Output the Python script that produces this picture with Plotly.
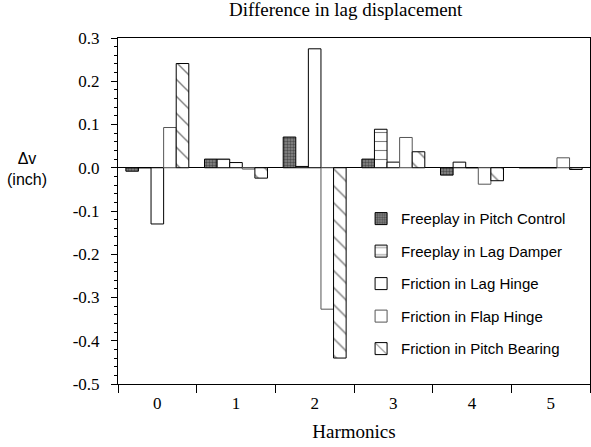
import plotly.graph_objects as go

harmonics = [0, 1, 2, 3, 4, 5]
tick_labels = ["0", "1", "2", "3", "4", "5"]
series_names = [
    "Freeplay in Pitch Control",
    "Freeplay in Lag Damper",
    "Friction in Lag Hinge",
    "Friction in Flap Hinge",
    "Friction in Pitch Bearing",
]
pitch_control = [-0.008, 0.020, 0.071, 0.020, -0.017, 0.0]
lag_damper = [0.0, 0.020, 0.003, 0.089, 0.013, 0.0]
lag_hinge = [-0.130, 0.012, 0.275, 0.013, 0.0, 0.0]
flap_hinge = [0.093, -0.003, -0.327, 0.070, -0.038, 0.023]
pitch_bearing = [0.241, -0.024, -0.440, 0.037, -0.030, -0.004]

values = [pitch_control, lag_damper, lag_hinge, flap_hinge, pitch_bearing]
styles = [
    dict(color="#6a6a6a", line=dict(color="black", width=1),
         pattern=dict(shape=".", fgcolor="#111111", bgcolor="#8a8a8a", size=3, solidity=0.5)),
    dict(color="white", line=dict(color="black", width=1),
         pattern=dict(shape="-", fgcolor="black", bgcolor="white", size=9, solidity=0.12)),
    dict(color="white", line=dict(color="black", width=1)),
    dict(color="white", line=dict(color="#555555", width=1)),
    dict(color="white", line=dict(color="black", width=1),
         pattern=dict(shape="\\", fgcolor="black", bgcolor="white", size=12, solidity=0.12)),
]

fig = go.Figure()
for i, (name, vals, st) in enumerate(zip(series_names, values, styles)):
    fig.add_trace(go.Bar(x=harmonics, y=vals, name=name, marker=st,
                         legendgroup=f"g{i}"))

serif = "Liberation Serif"
sans = "Liberation Sans"

fig.update_layout(
    width=591, height=447,
    margin=dict(l=118, r=1, t=38, b=63),
    paper_bgcolor="white", plot_bgcolor="white",
    barmode="group", bargap=0.2, bargroupgap=0,
    title=dict(text="Difference in lag displacement", x=0.585, xanchor="center",
               y=0.995, yanchor="top", font=dict(family=serif, size=19, color="black")),
    showlegend=True,
    legend=dict(x=0.515, y=0.525, xanchor="left", yanchor="top",
                bgcolor="rgba(0,0,0,0)", font=dict(family=sans, size=15, color="black"),
                tracegroupgap=10, itemwidth=30),
    xaxis=dict(
        range=[-0.5, 5.5], tickmode="array", tickvals=harmonics, ticktext=tick_labels,
        ticks="", showgrid=False, zeroline=False,
        showline=True, linecolor="black", linewidth=1, mirror=True,
        tickfont=dict(family=serif, size=17, color="black"),
        ticklabelstandoff=4,
        title=dict(text="Harmonics", font=dict(family=serif, size=19, color="black"), standoff=12),
        minor=dict(tick0=-0.5, dtick=1, ticks="outside", ticklen=8, tickcolor="black", showgrid=False),
    ),
    yaxis=dict(
        range=[-0.5, 0.3], tickmode="array",
        tickvals=[-0.5, -0.4, -0.3, -0.2, -0.1, 0.0, 0.1, 0.2, 0.3],
        ticktext=["-0.5", "-0.4", "-0.3", "-0.2", "-0.1", "0.0", "0.1", "0.2", "0.3"],
        ticks="outside", ticklen=6, tickcolor="black", showgrid=False,
        ticklabelstandoff=8,
        zeroline=True, zerolinecolor="black", zerolinewidth=1,
        showline=True, linecolor="black", linewidth=1, mirror=True,
        tickfont=dict(family=serif, size=17, color="black"),
        minor=dict(dtick=0.02, ticks="outside", ticklen=3, tickcolor="black", showgrid=False),
    ),
    annotations=[dict(text="Δv<br>(inch)", xref="paper", yref="paper",
                      x=-0.192, y=0.621, xanchor="center", yanchor="middle",
                      showarrow=False, font=dict(family=sans, size=16, color="black"))],
)

fig.write_html("out.html")
